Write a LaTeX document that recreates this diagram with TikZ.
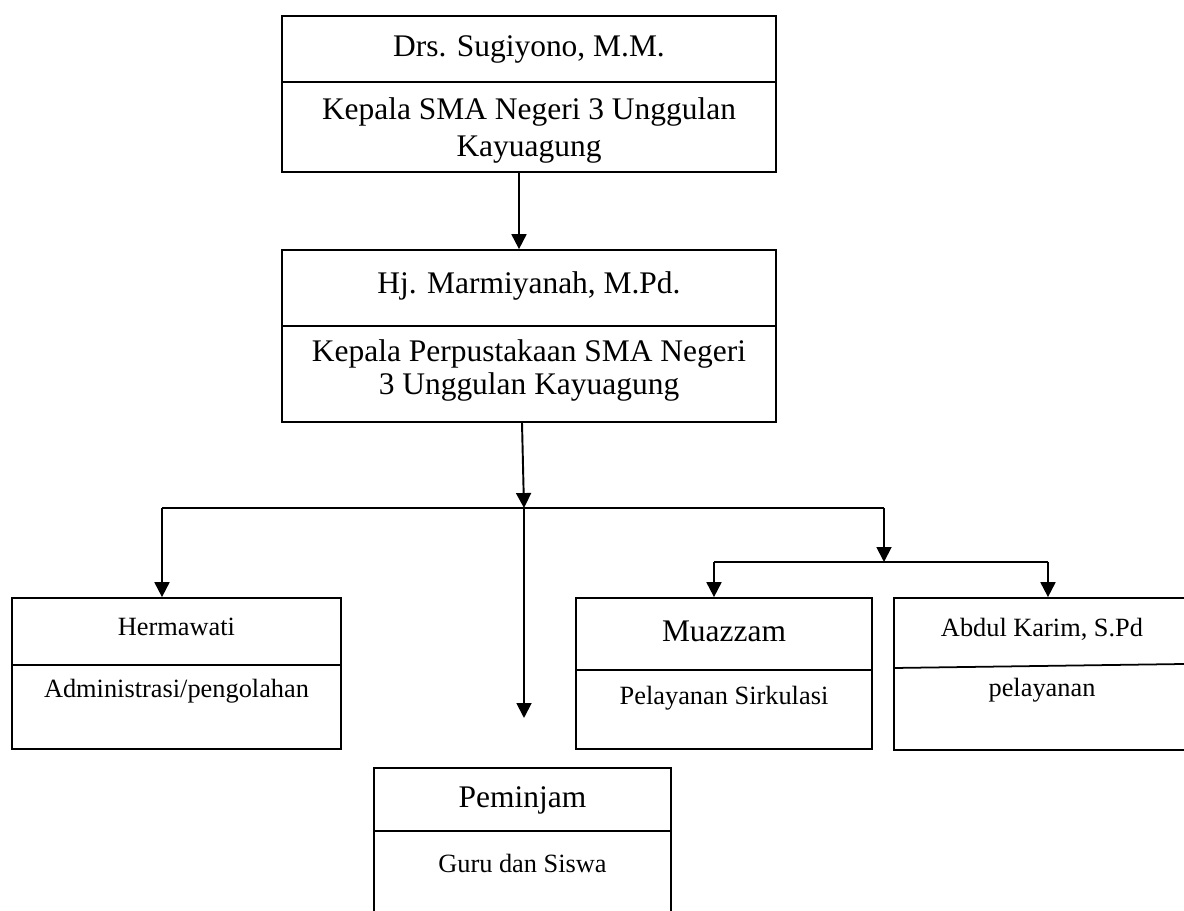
\documentclass[tikz,border=0pt]{standalone}
\usepackage{fontspec}
\setmainfont{Liberation Serif}
\usetikzlibrary{arrows.meta}
\begin{document}
\begin{tikzpicture}[x=0.02cm,y=-0.02cm,
  box/.style={draw,line width=1pt,inner sep=0pt},
  conn/.style={line width=1.1pt},
  arr/.style={line width=1.1pt,-{Triangle[width=8.5pt,length=8.5pt]}},
  big/.style={anchor=base,inner sep=0pt,font=\fontsize{17.9}{20}\selectfont},
  small/.style={anchor=base,inner sep=0pt,font=\fontsize{15}{17}\selectfont}]
\useasboundingbox (0,0) rectangle (1184,911);
\clip (0,0) rectangle (1184,911);
\fill[white] (0,0) rectangle (1184,911);

% boxes
\node[box,minimum width=9.88cm,minimum height=3.12cm] (top) at (529,94) {};
\node[box,minimum width=9.88cm,minimum height=3.44cm] (mid) at (529,336) {};
\node[box,minimum width=6.58cm,minimum height=3.02cm] (herm) at (176.5,673.5) {};
\node[box,minimum width=5.92cm,minimum height=3.02cm] (muaz) at (724,673.5) {};
\node[box,minimum width=6.12cm,minimum height=3.04cm] (abdul) at (1047,674) {};
\node[box,minimum width=5.94cm,minimum height=3.44cm] (pem) at (522.5,854) {};

% dividers
\draw[line width=1pt] (282,82) -- (776,82);
\draw[line width=1pt] (282,326) -- (776,326);
\draw[line width=1pt] (12,665) -- (341,665);
\draw[line width=1pt] (576,670) -- (872,670);
\draw[line width=1pt] (894,668) -- (1184,664);
\draw[line width=1pt] (374,831) -- (671,831);

% texts
\node[big] (t1) at (529,57) {Drs. Sugiyono, M.M.};
\node[big] (t2) at (529,120) {Kepala SMA Negeri 3 Unggulan};
\node[big] (t3) at (529,157) {Kayuagung};
\node[big] (m1) at (529,294) {Hj. Marmiyanah, M.Pd.};
\node[big] (m2) at (529,362) {Kepala Perpustakaan SMA Negeri};
\node[big] (m3) at (529,395) {3 Unggulan Kayuagung};
\node[small] (h1) at (176.5,636) {Hermawati};
\node[small] (h2) at (176.5,698) {Administrasi/pengolahan};
\node[big] (u1) at (724,642) {Muazzam};
\node[small] (u2) at (724,705) {Pelayanan Sirkulasi};
\node[small] (a1) at (1042,637) {Abdul Karim, S.Pd};
\node[small] (a2) at (1042,697) {pelayanan};
\node[big] (p1) at (522.5,808) {Peminjam};
\node[small] (p2) at (522.5,873) {Guru dan Siswa};

% junctions
\coordinate (j0) at (524,508);
\coordinate (busL) at (162,508);
\coordinate (busR) at (884,508);
\coordinate (j1) at (884,562);
\coordinate (sbL) at (714,562);
\coordinate (sbR) at (1048,562);
\coordinate (midEnd) at (524,718);

% connectors
\draw[arr] ([xshift=-0.2cm]top.south) -- ([xshift=-0.2cm]mid.north);
\draw[arr] ([xshift=-0.14cm]mid.south) -- (j0);
\draw[conn] (busL) -- (busR);
\draw[arr] (busL) -- (herm.north -| busL);
\draw[arr] (j0) -- (midEnd);
\draw[arr] (busR) -- (j1);
\draw[conn] (sbL) -- (sbR);
\draw[arr] (sbL) -- (muaz.north -| sbL);
\draw[arr] (sbR) -- (abdul.north -| sbR);
\end{tikzpicture}
\end{document}
